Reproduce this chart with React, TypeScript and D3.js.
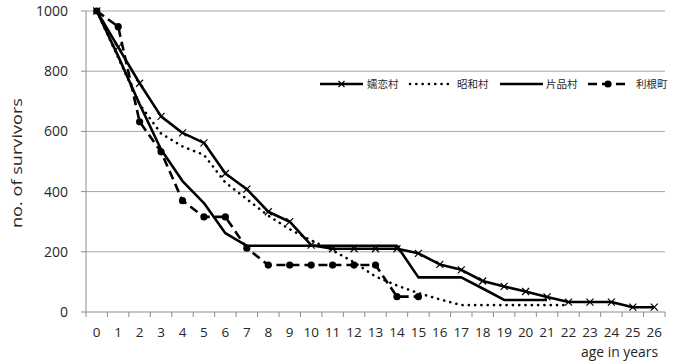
import * as d3 from 'd3';

const ages = ['0', '1', '2', '3', '4', '5', '6', '7', '8', '9', '10', '11', '12', '13', '14', '15', '16', '17', '18', '19', '20', '21', '22', '23', '24', '25', '26'];
const yTicks = [0, 200, 400, 600, 800, 1000];

// 嬬恋村
const tsumagoi = [1000, 880, 760, 650, 595, 562, 460, 408, 333, 300, 222, 210, 210, 210, 210, 195, 158, 140, 103, 85, 68, 50, 33, 33, 33, 16, 16];
// 昭和村
const showa = [1000, 845, 690, 593, 550, 522, 430, 375, 320, 275, 238, 205, 165, 118, 88, 63, 42, 23, 23, 23, 23, 23, 23];
// 片品村
const kataoka = [1000, 850, 690, 540, 435, 362, 262, 220, 220, 220, 220, 220, 220, 220, 220, 115, 115, 115, 78, 40, 40, 40];
// 利根町
const tone = [1000, 948, 632, 532, 370, 316, 316, 212, 156, 156, 156, 156, 156, 156, 51, 51];

const W = 678;
const H = 364;
const left = 86;
const right = 665;
const top = 11;
const bottom = 312;

const font = '"Open Sans", "Liberation Sans", sans-serif';
const cjk = '"Noto Sans CJK JP", "Noto Sans CJK SC", sans-serif';

export default function App() {
  const x = d3.scaleBand<string>().domain(ages).range([left, right]).padding(0);
  const y = d3.scaleLinear().domain([0, 1000]).range([bottom, top]);
  const cx = (i: number) => (x(ages[i]) as number) + x.bandwidth() / 2;

  const line = d3.line<number>().x((_, i) => cx(i)).y(d => y(d));

  const series = [
    { name: '嬬恋村', data: tsumagoi, dash: undefined, cap: 'butt', marker: 'x' },
    { name: '昭和村', data: showa, dash: '0.1 6.2', cap: 'round', marker: null },
    { name: '片品村', data: kataoka, dash: undefined, cap: 'butt', marker: null },
    { name: '利根町', data: tone, dash: '9 5', cap: 'butt', marker: 'o' },
  ];

  const xMark = (px: number, py: number, k: string, s = 3.5) => (
    <path key={k} d={`M${px - s},${py - s}L${px + s},${py + s}M${px - s},${py + s}L${px + s},${py - s}`} stroke="#000" strokeWidth={1.2} fill="none" />
  );

  const legend = [
    { x0: 320, x1: 363, tx: 367 },
    { x0: 410, x1: 448, tx: 457 },
    { x0: 500, x1: 543, tx: 546 },
    { x0: 588, x1: 628, tx: 636 },
  ];
  const ly = 84;

  return (
    <svg width={W} height={H} style={{ position: 'absolute', left: 0, top: 0, background: '#fff' }}>
      {/* grid */}
      {yTicks.filter(t => t > 0).map(t => (
        <line key={'g' + t} x1={left} x2={right} y1={y(t)} y2={y(t)} stroke="#a6a6a6" strokeWidth={1} />
      ))}
      {/* y axis */}
      <line x1={left} x2={left} y1={top} y2={bottom} stroke="#8c8c8c" />
      {yTicks.map(t => (
        <g key={'yt' + t}>
          <line x1={left - 5} x2={left} y1={y(t)} y2={y(t)} stroke="#8c8c8c" />
          <text x={68} y={y(t)} dy="0.35em" textAnchor="end" fontFamily={font} fontSize={14} fill="#262626">{t}</text>
        </g>
      ))}
      {/* x axis */}
      <line x1={left} x2={right} y1={bottom} y2={bottom} stroke="#8c8c8c" />
      {ages.map(a => (
        <line key={'xt' + a} x1={x(a) as number} x2={x(a) as number} y1={bottom} y2={bottom + 5} stroke="#8c8c8c" />
      ))}
      <line x1={right} x2={right} y1={bottom} y2={bottom + 5} stroke="#8c8c8c" />
      {ages.map((a, i) => (
        <text key={'xl' + a} x={cx(i)} y={332} dy="0.35em" textAnchor="middle" fontFamily={font} fontSize={13.5} fill="#262626">{a}</text>
      ))}
      <text x={658} y={357} textAnchor="end" fontFamily={font} fontSize={14} fill="#262626" textLength={77} lengthAdjust="spacingAndGlyphs">age in years</text>
      <text transform={`translate(22,163) rotate(-90)`} textAnchor="middle" fontFamily={font} fontSize={14.5} fill="#262626" textLength={130} lengthAdjust="spacingAndGlyphs">no. of survivors</text>

      {/* series */}
      {series.map(s => (
        <g key={s.name}>
          <path d={line(s.data) || ''} fill="none" stroke="#000" strokeWidth={2.6} strokeDasharray={s.dash} strokeLinecap={s.cap as any} strokeLinejoin="round" />
          {s.marker === 'x' && s.data.map((v, i) => xMark(cx(i), y(v), s.name + i))}
          {s.marker === 'o' && s.data.map((v, i) => (
            <circle key={s.name + i} cx={cx(i)} cy={y(v)} r={3.6} fill="#000" />
          ))}
        </g>
      ))}

      {/* legend */}
      {series.map((s, i) => {
        const l = legend[i];
        const mid = (l.x0 + l.x1) / 2;
        return (
          <g key={'lg' + s.name}>
            <line x1={l.x0} x2={l.x1} y1={ly} y2={ly} stroke="#000" strokeWidth={2.6} strokeDasharray={s.marker === 'o' ? '9 5' : s.dash} strokeLinecap={s.cap as any} />
            {s.marker === 'x' && xMark(mid, ly, 'lx', 3)}
            {s.marker === 'o' && <circle cx={mid} cy={ly} r={3.6} fill="#000" />}
            <text x={l.tx} y={ly} dy="0.36em" fontFamily={cjk} fontSize={10.5} fill="#262626">{s.name}</text>
          </g>
        );
      })}
    </svg>
  );
}
